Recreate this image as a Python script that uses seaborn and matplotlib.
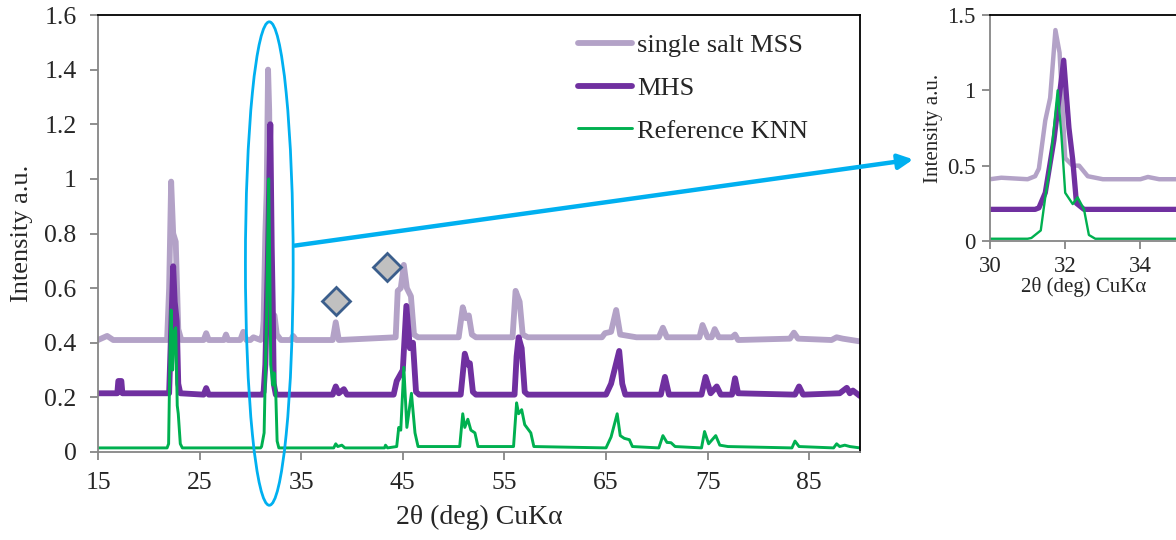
import matplotlib
matplotlib.use("Agg")
import matplotlib.pyplot as plt
import seaborn as sns
import numpy as np
from matplotlib.patches import Ellipse, FancyArrowPatch

# ---- data ----
mss_x = [15.0, 15.9, 16.5, 21.8, 22.0, 22.2, 22.4, 22.65, 22.9, 23.2, 25.4, 25.65, 25.9,
         27.4, 27.6, 27.8, 29.0, 29.3, 29.6, 30.0, 30.3, 31.0, 31.2, 31.3, 31.47, 31.6,
         31.74, 31.85, 32.0, 32.2, 32.37, 32.6, 33.0, 34.0, 34.2, 34.5, 38.1, 38.4, 38.7,
         44.3, 44.5, 44.8, 45.1, 45.4, 45.8, 46.1, 46.5, 50.5, 50.9, 51.2, 51.5, 51.8,
         52.2, 55.8, 56.1, 56.5, 56.8, 57.3, 64.6, 64.9, 65.5, 66.0, 66.4, 68.0, 70.2,
         70.6, 71.0, 74.2, 74.5, 75.0, 75.4, 75.7, 76.1, 77.4, 77.7, 78.0, 83.1, 83.5,
         83.9, 87.2, 87.7, 88.3, 90.0]
mss_y = [0.41, 0.425, 0.41, 0.41, 0.60, 0.99, 0.80, 0.77, 0.45, 0.41, 0.41, 0.435, 0.41,
         0.41, 0.43, 0.41, 0.41, 0.44, 0.41, 0.41, 0.42, 0.41, 0.43, 0.48, 0.80, 0.95,
         1.40, 1.25, 0.55, 0.50, 0.50, 0.43, 0.41, 0.41, 0.425, 0.41, 0.41, 0.475, 0.41,
         0.42, 0.59, 0.60, 0.685, 0.60, 0.57, 0.43, 0.42, 0.42, 0.53, 0.49, 0.50, 0.43,
         0.42, 0.42, 0.59, 0.55, 0.43, 0.42, 0.42, 0.435, 0.44, 0.52, 0.43, 0.42, 0.42,
         0.455, 0.42, 0.42, 0.465, 0.42, 0.42, 0.45, 0.42, 0.42, 0.43, 0.41, 0.415, 0.437,
         0.415, 0.41, 0.42, 0.415, 0.405]

mhs_x = [15.0, 16.9, 17.0, 17.3, 17.4, 22.0, 22.2, 22.4, 22.55, 22.75, 22.9, 23.1, 25.4,
         25.65, 25.9, 31.2, 31.3, 31.47, 31.7, 31.96, 32.1, 32.2, 32.3, 32.5, 38.1, 38.4,
         38.7, 39.2, 39.5, 44.1, 44.4, 44.7, 45.0, 45.35, 45.7, 46.0, 46.3, 46.6, 50.7,
         51.1, 51.4, 51.6, 51.9, 52.2, 56.0, 56.2, 56.4, 56.7, 57.0, 57.3, 65.0, 65.5,
         66.3, 66.6, 66.9, 70.4, 70.8, 71.2, 74.4, 74.8, 75.3, 75.9, 76.3, 77.4, 77.7,
         78.0, 83.6, 84.0, 84.4, 88.0, 88.7, 89.0, 89.3, 90.0]
mhs_y = [0.215, 0.215, 0.26, 0.26, 0.215, 0.215, 0.45, 0.68, 0.55, 0.48, 0.25, 0.215, 0.21,
         0.234, 0.21, 0.21, 0.22, 0.32, 0.67, 1.20, 0.75, 0.54, 0.25, 0.21, 0.21, 0.24,
         0.215, 0.23, 0.21, 0.21, 0.26, 0.28, 0.30, 0.535, 0.38, 0.40, 0.22, 0.21, 0.21,
         0.36, 0.32, 0.325, 0.22, 0.21, 0.21, 0.35, 0.42, 0.38, 0.22, 0.21, 0.21, 0.25,
         0.37, 0.25, 0.21, 0.21, 0.275, 0.21, 0.21, 0.275, 0.215, 0.24, 0.21, 0.21, 0.27,
         0.215, 0.21, 0.24, 0.21, 0.215, 0.235, 0.215, 0.225, 0.205]

knn_x = [15.0, 21.8, 21.95, 22.1, 22.2, 22.35, 22.5, 22.65, 22.8, 22.9, 23.1, 23.3, 31.0,
         31.1, 31.35, 31.48, 31.6, 31.8, 31.9, 32.0, 32.2, 32.33, 32.5, 32.63, 32.8, 38.2,
         38.4, 38.6, 39.0, 39.3, 43.2, 43.3, 43.5, 44.4, 44.6, 44.8, 45.1, 45.4, 45.85,
         46.2, 46.5, 50.6, 50.9, 51.1, 51.4, 51.7, 52.1, 52.4, 55.9, 56.2, 56.4, 56.7,
         57.0, 57.2, 57.6, 57.9, 65.0, 65.5, 66.1, 66.4, 66.8, 67.3, 67.6, 70.2, 70.6,
         71.0, 71.4, 71.8, 74.4, 74.7, 75.1, 75.8, 76.2, 77.0, 83.3, 83.6, 84.0, 87.4,
         87.7, 88.0, 88.5, 89.0, 90.0]
knn_y = [0.015, 0.015, 0.03, 0.40, 0.52, 0.30, 0.44, 0.455, 0.17, 0.14, 0.03, 0.015, 0.015,
         0.02, 0.07, 0.31, 0.50, 1.00, 0.70, 0.32, 0.245, 0.29, 0.21, 0.04, 0.015, 0.015,
         0.03, 0.02, 0.025, 0.015, 0.015, 0.025, 0.015, 0.02, 0.09, 0.08, 0.31, 0.09, 0.215,
         0.07, 0.02, 0.02, 0.14, 0.09, 0.12, 0.08, 0.07, 0.02, 0.02, 0.18, 0.14, 0.155,
         0.10, 0.09, 0.07, 0.02, 0.015, 0.055, 0.14, 0.06, 0.05, 0.045, 0.02, 0.015, 0.06,
         0.035, 0.034, 0.02, 0.015, 0.075, 0.03, 0.06, 0.025, 0.02, 0.015, 0.04, 0.02, 0.015,
         0.03, 0.02, 0.025, 0.02, 0.015]

marker_x = [38.4, 43.4]
marker_y = [0.553, 0.678]

labels = ["single salt MSS", "MHS", "Reference KNN"]
main_xticks = [15, 25, 35, 45, 55, 65, 75, 85]
main_yticks = [0, 0.2, 0.4, 0.6, 0.8, 1.0, 1.2, 1.4, 1.6]
main_ytick_labels = ["0", "0.2", "0.4", "0.6", "0.8", "1", "1.2", "1.4", "1.6"]
inset_xticks = [30, 32, 34]
inset_yticks = [0, 0.5, 1.0, 1.5]
inset_ytick_labels = ["0", "0.5", "1", "1.5"]

C_MSS = "#B3A2C7"
C_MHS = "#7030A0"
C_KNN = "#00B050"
C_BLUE = "#00B0F0"

sns.set_style("white")
plt.rcParams["font.family"] = ["Liberation Serif", "DejaVu Serif"]

fig = plt.figure(figsize=(11.76, 5.40), dpi=100)
ax = fig.add_axes([98/1176, 1-452/540, (860-98)/1176, (452-15)/540])
axi = fig.add_axes([990/1176, 1-241/540, 188/1176, (241-15)/540])

def draw(a, lws):
    kw = dict(sort=False, estimator=None, solid_capstyle="round", solid_joinstyle="round")
    sns.lineplot(x=mss_x, y=mss_y, ax=a, color=C_MSS, lw=lws[0], label=labels[0], **kw)
    sns.lineplot(x=mhs_x, y=mhs_y, ax=a, color=C_MHS, lw=lws[1], label=labels[1], **kw)
    sns.lineplot(x=knn_x, y=knn_y, ax=a, color=C_KNN, lw=lws[2], label=labels[2], **kw)

draw(ax, (4.2, 4.2, 2.1))
draw(axi, (3.2, 3.8, 1.7))

for a in (ax, axi):
    a.spines["left"].set_color("#868686")
    a.spines["bottom"].set_color("#868686")
    a.spines["top"].set_color("black")
    a.spines["right"].set_color("black")
    for s in a.spines.values():
        s.set_linewidth(1.3)
    a.tick_params(axis="both", which="both", direction="out", length=5.5, width=1.3,
                  color="#868686", left=True, bottom=True)

ax.set_xlim(15, 90)
ax.set_ylim(0, 1.6)
ax.set_xticks(main_xticks)
ax.set_yticks(main_yticks)
ax.set_yticklabels(main_ytick_labels)
ax.tick_params(axis="y", labelsize=18.5, pad=10)
ax.tick_params(axis="x", labelsize=18.5, pad=9)
ax.set_xlabel("2θ (deg) CuKα", fontsize=20, labelpad=8)
ax.set_ylabel("Intensity a.u.", fontsize=19, labelpad=8)

axi.set_xlim(30, 35)
axi.set_ylim(0, 1.5)
axi.set_xticks(inset_xticks)
axi.set_yticks(inset_yticks)
axi.set_yticklabels(inset_ytick_labels)
axi.tick_params(labelsize=16.5, pad=5)
axi.set_xlabel("2θ (deg) CuKα", fontsize=15, labelpad=0)
axi.set_ylabel("Intensity a.u.", fontsize=15, labelpad=3)
if axi.get_legend() is not None:
    axi.get_legend().remove()

# diamonds
ax.plot(marker_x, marker_y, linestyle="none", marker="D", ms=14, mfc="#C0C0C0",
        mec="#3B5E8C", mew=2, zorder=5)

leg = ax.legend(loc="upper left", bbox_to_anchor=(0.630, 0.957), frameon=False,
                fontsize=19, handlelength=2.05, handletextpad=0.19, labelspacing=0.73,
                borderpad=0, borderaxespad=0)

# ellipse highlighting main peak
ell = Ellipse((31.86, 0.69), width=4.7, height=1.77, fill=False, ec=C_BLUE, lw=2,
              clip_on=False, zorder=6)
ax.add_patch(ell)

# arrow to inset
arr = FancyArrowPatch((292/1176, 1-246/540), (916/1176, 1-159/540),
                      transform=fig.transFigure, arrowstyle="-|>", mutation_scale=22,
                      color=C_BLUE, lw=3.2)
fig.patches.append(arr)

fig.savefig("out.png", dpi=100)
